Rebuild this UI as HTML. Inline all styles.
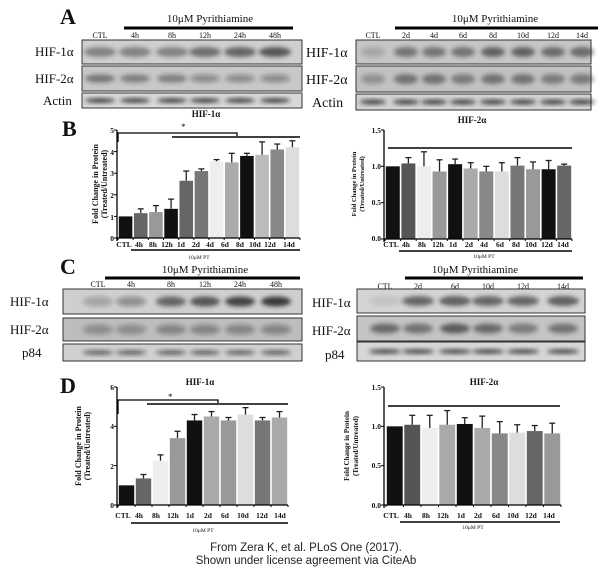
<!DOCTYPE html>
<html><head><meta charset="utf-8"><style>
html,body{margin:0;padding:0;background:#fff;width:611px;height:572px;overflow:hidden}
svg{display:block}
.t{font-family:"Liberation Serif",serif;fill:#111}
.b{font-weight:bold}
</style></head><body>
<svg id="s" width="611" height="572" viewBox="0 0 611 572" xmlns="http://www.w3.org/2000/svg">
<defs><filter id="bl" x="-20%" y="-50%" width="140%" height="200%"><feGaussianBlur stdDeviation="2"/></filter></defs>
<g id="g"></g>
<text class="t b" x="60" y="24" font-size="22">A</text>
<text class="t" x="210" y="22" font-size="11" text-anchor="middle">10μM Pyrithiamine</text>
<line x1="124" y1="28" x2="293" y2="28" stroke="#000" stroke-width="3"/>
<g class="t" font-size="8" text-anchor="middle"><text x="100" y="38">CTL</text><text x="135" y="38">4h</text><text x="172" y="38">8h</text><text x="205" y="38">12h</text><text x="240" y="38">24h</text><text x="275" y="38">48h</text></g>
<g class="t" font-size="13"><text x="35" y="56">HIF-1α</text><text x="35" y="83">HIF-2α</text><text x="43" y="105">Actin</text></g>
<text class="t" x="495" y="22" font-size="11" text-anchor="middle">10μM Pyrithiamine</text>
<line x1="395" y1="28" x2="598" y2="28" stroke="#000" stroke-width="3"/>
<g class="t" font-size="8" text-anchor="middle"><text x="373" y="38">CTL</text><text x="406" y="38">2d</text><text x="434" y="38">4d</text><text x="463" y="38">6d</text><text x="493" y="38">8d</text><text x="523" y="38">10d</text><text x="553" y="38">12d</text><text x="582" y="38">14d</text></g>
<g class="t" font-size="14"><text x="306" y="57">HIF-1α</text><text x="306" y="84">HIF-2α</text><text x="312" y="107">Actin</text></g>
<text class="t b" x="62" y="136" font-size="22">B</text>
<text class="t b" x="206" y="117" font-size="9" text-anchor="middle">HIF-1α</text>
<text class="t b" x="472" y="123" font-size="9" text-anchor="middle">HIF-2α</text>
<text class="t b" font-size="8" transform="translate(98,184) rotate(-90)" text-anchor="middle">Fold Change in Protein</text>
<text class="t b" font-size="8" transform="translate(107,184) rotate(-90)" text-anchor="middle">(Treated/Untreated)</text>
<text class="t b" font-size="6.5" transform="translate(356,184) rotate(-90)" text-anchor="middle">Fold Change in Protein</text>
<text class="t b" font-size="6.5" transform="translate(364,184) rotate(-90)" text-anchor="middle">(Treated/Untreated)</text>
<text class="t" x="181" y="130" font-size="9">*</text>
<text class="t" x="199" y="259" font-size="5.5" text-anchor="middle">10μM PT</text>
<text class="t" x="484" y="258" font-size="5.5" text-anchor="middle">10μM PT</text>
<text class="t b" x="60" y="274" font-size="22">C</text>
<text class="t" x="205" y="273" font-size="11" text-anchor="middle">10μM Pyrithiamine</text>
<line x1="105" y1="278" x2="300" y2="278" stroke="#000" stroke-width="3"/>
<g class="t" font-size="8" text-anchor="middle"><text x="98" y="287">CTL</text><text x="131" y="287">4h</text><text x="171" y="287">8h</text><text x="205" y="287">12h</text><text x="240" y="287">24h</text><text x="276" y="287">48h</text></g>
<g class="t" font-size="13"><text x="10" y="306">HIF-1α</text><text x="10" y="334">HIF-2α</text><text x="22" y="357">p84</text></g>
<text class="t" x="475" y="273" font-size="11" text-anchor="middle">10μM Pyrithiamine</text>
<line x1="405" y1="278" x2="583" y2="278" stroke="#000" stroke-width="3"/>
<g class="t" font-size="8" text-anchor="middle"><text x="385" y="289">CTL</text><text x="418" y="289">2d</text><text x="455" y="289">6d</text><text x="488" y="289">10d</text><text x="523" y="289">12d</text><text x="563" y="289">14d</text></g>
<g class="t" font-size="13"><text x="312" y="307">HIF-1α</text><text x="312" y="335">HIF-2α</text><text x="325" y="359">p84</text></g>
<text class="t b" x="60" y="393" font-size="22">D</text>
<text class="t b" x="200" y="385" font-size="9" text-anchor="middle">HIF-1α</text>
<text class="t b" x="484" y="385" font-size="9" text-anchor="middle">HIF-2α</text>
<text class="t b" font-size="8" transform="translate(81,446) rotate(-90)" text-anchor="middle">Fold Change in Protein</text>
<text class="t b" font-size="8" transform="translate(90,446) rotate(-90)" text-anchor="middle">(Treated/Untreated)</text>
<text class="t b" font-size="7" transform="translate(349,446) rotate(-90)" text-anchor="middle">Fold Change in Protein</text>
<text class="t b" font-size="7" transform="translate(358,446) rotate(-90)" text-anchor="middle">(Treated/Untreated)</text>
<text class="t" x="168" y="400" font-size="9">*</text>
<text class="t" x="203" y="532" font-size="5.5" text-anchor="middle">10μM PT</text>
<text class="t" x="473" y="529" font-size="5.5" text-anchor="middle">10μM PT</text>
<g font-family="Liberation Sans,sans-serif" font-size="11.5" fill="#222" text-anchor="middle"><text x="306" y="551">From Zera K, et al. PLoS One (2017).</text><text x="306" y="564">Shown under license agreement via CiteAb</text></g>
<g class="t b" font-size="7.5" text-anchor="middle" id="tl">
<text x="124" y="247">CTL</text><text x="139" y="247">4h</text><text x="153" y="247">8h</text><text x="167" y="247">12h</text><text x="181" y="247">1d</text><text x="196" y="247">2d</text><text x="210" y="247">4d</text><text x="225" y="247">6d</text><text x="240" y="247">8d</text><text x="255" y="247">10d</text><text x="270" y="247">12d</text><text x="289" y="247">14d</text>
<text x="391" y="247">CTL</text><text x="406" y="247">4h</text><text x="422" y="247">8h</text><text x="438" y="247">12h</text><text x="453" y="247">1d</text><text x="469" y="247">2d</text><text x="484" y="247">4d</text><text x="500" y="247">6d</text><text x="516" y="247">8d</text><text x="531" y="247">10d</text><text x="547" y="247">12d</text><text x="563" y="247">14d</text>
<text x="123" y="518">CTL</text><text x="139" y="518">4h</text><text x="156" y="518">8h</text><text x="173" y="518">12h</text><text x="190" y="518">1d</text><text x="208" y="518">2d</text><text x="225" y="518">6d</text><text x="243" y="518">10d</text><text x="262" y="518">12d</text><text x="280" y="518">14d</text>
<text x="391" y="518">CTL</text><text x="408" y="518">4h</text><text x="426" y="518">8h</text><text x="443" y="518">12h</text><text x="461" y="518">1d</text><text x="478" y="518">2d</text><text x="496" y="518">6d</text><text x="513" y="518">10d</text><text x="531" y="518">12d</text><text x="549" y="518">14d</text>
</g>
<g class="t b" font-size="7.5" text-anchor="end">
<text x="114" y="133">5</text><text x="114" y="155">4</text><text x="114" y="176">3</text><text x="114" y="198">2</text><text x="114" y="220">1</text><text x="114" y="241">0</text>
<text x="381" y="133">1.5</text><text x="381" y="169">1.0</text><text x="381" y="205">0.5</text><text x="381" y="241">0.0</text>
<text x="114" y="390">6</text><text x="114" y="429">4</text><text x="114" y="469">2</text><text x="114" y="508">0</text>
<text x="381" y="390">1.5</text><text x="381" y="429">1.0</text><text x="381" y="468">0.5</text><text x="381" y="508">0.0</text>
</g>
</svg>
<script>
var g=document.getElementById('g'),NS='http://www.w3.org/2000/svg';
function el(n,a){var e=document.createElementNS(NS,n);for(var k in a)e.setAttribute(k,a[k]);g.appendChild(e);return e;}
function blot(x1,y1,x2,y2,bg,lanes,h){
 el('rect',{x:x1,y:y1,width:x2-x1,height:y2-y1,fill:bg,stroke:'#333','stroke-width':1});
 lanes.forEach(function(l){el('ellipse',{cx:l[0],cy:(y1+y2)/2,rx:l[2]||14,ry:h,fill:'#222','fill-opacity':l[1],filter:'url(#bl)'});});
}
var LA=[100,135,172,205,240,275];
blot(82,40,302,64,'#cfcfcf',LA.map(function(x,i){return[x,[.45,.45,.45,.55,.6,.7][i],16]}),5);
blot(82,66,302,91,'#c8c8c8',LA.map(function(x,i){return[x,[.5,.45,.45,.35,.35,.35][i],15]}),4);
blot(82,93,302,108,'#d8d8d8',LA.map(function(x){return[x,.8,15]}),2.5);
var RA=[373,406,434,463,493,523,553,582];
blot(356,40,591,64,'#c6c6c6',RA.map(function(x,i){return[x,[.2,.5,.5,.5,.6,.6,.55,.55][i],12]}),5);
blot(356,66,591,92,'#c2c2c2',RA.map(function(x,i){return[x,[.3,.5,.5,.45,.5,.5,.45,.45][i],12]}),5);
blot(356,94,591,110,'#d2d2d2',RA.map(function(x){return[x,.8,13]}),2.5);
var LC=[98,131,171,205,240,276];
blot(63,289,302,314,'#cfcfcf',LC.map(function(x,i){return[x,[.25,.35,.6,.7,.8,.85][i],15]}),5);
blot(63,318,302,341,'#bdbdbd',LC.map(function(x,i){return[x,[.3,.3,.35,.35,.35,.35][i],15]}),5);
blot(63,344,302,361,'#d0d0d0',LC.map(function(x){return[x,.6,15]}),2.5);
var RC=[385,418,455,488,523,563];
blot(357,289,585,313,'#d4d4d4',RC.map(function(x,i){return[x,[.08,.6,.65,.6,.6,.65][i],16]}),5);
blot(357,316,585,341,'#c4c4c4',RC.map(function(x,i){return[x,[.55,.5,.65,.55,.45,.5][i],15]}),5);
blot(357,342,585,361,'#d6d6d6',RC.map(function(x){return[x,.75,16]}),2.5);
function chart(ax,x0,x1,y0,yT,max,vals,errs,cols,ticks){
 var n=vals.length,w=(x1-x0)/n,sc=(y0-yT)/max;
 vals.forEach(function(v,i){var bx=x0+i*w+0.8,by=y0-v*sc;
  el('rect',{x:bx,y:by,width:w-1.6,height:v*sc,fill:cols[i]});
  if(errs[i]>0){var cx=bx+(w-1.6)/2,ey=by-errs[i]*sc;
   el('line',{x1:cx,y1:by,x2:cx,y2:ey,stroke:'#222','stroke-width':1.3});
   el('line',{x1:cx-3,y1:ey,x2:cx+3,y2:ey,stroke:'#222','stroke-width':1.3});}
 });
 el('line',{x1:ax,y1:yT,x2:ax,y2:y0+3,stroke:'#000','stroke-width':1.3});
 el('line',{x1:ax,y1:y0,x2:x1,y2:y0,stroke:'#000','stroke-width':1.3});
 ticks.forEach(function(t){var y=y0-t*sc;el('line',{x1:ax-3,y1:y,x2:ax,y2:y,stroke:'#000'});});
 for(var i=0;i<=n;i++)el('line',{x1:x0+i*w,y1:y0,x2:x0+i*w,y2:y0+2,stroke:'#000'});
}
chart(117,118,300,238,130,5,[1,1.15,1.2,1.35,2.65,3.1,3.55,3.5,3.8,3.85,4.1,4.2],[0,.2,.3,.45,.45,.1,.08,.42,.12,.6,.25,.3],
['#111','#666','#999','#111','#666','#777','#eee','#aaa','#111','#bbb','#888','#ddd'],[0,1,2,3,4,5]);
el('polyline',{points:'118,142 118,133 237,133 237,136',fill:'none',stroke:'#000','stroke-width':1.3});
el('line',{x1:172,y1:137,x2:300,y2:137,stroke:'#000','stroke-width':1.5});
el('line',{x1:131,y1:250,x2:300,y2:250,stroke:'#000','stroke-width':1.5});
chart(384,385,572,239,130,1.5,[1,1.04,1.0,.93,1.03,.97,.93,.93,1.01,.96,.96,1.01],[0,.08,.2,.16,.07,.08,.07,.12,.11,.1,.12,.02],
['#111','#555','#eee','#999','#111','#aaa','#888','#ddd','#777','#999','#111','#666'],[0,.5,1,1.5]);
el('line',{x1:388,y1:148,x2:572,y2:148,stroke:'#000','stroke-width':1.5});
el('line',{x1:399,y1:251,x2:572,y2:251,stroke:'#000','stroke-width':1.5});
chart(117,118,288,505,387,6,[1,1.35,2.25,3.4,4.3,4.5,4.3,4.6,4.3,4.45],[0,.2,.3,.35,.3,.25,.15,.35,.15,.3],
['#111','#666','#eee','#999','#111','#aaa','#999','#ddd','#777','#aaa'],[0,2,4,6]);
el('polyline',{points:'118,414 118,400 218,400 218,403',fill:'none',stroke:'#000','stroke-width':1.3});
el('line',{x1:147,y1:404,x2:288,y2:404,stroke:'#000','stroke-width':1.5});
el('line',{x1:131,y1:523,x2:288,y2:523,stroke:'#000','stroke-width':1.5});
chart(384,386,561,505,387,1.5,[1,1.02,.98,1.02,1.03,.98,.91,.92,.94,.91],[0,.12,.16,.18,.08,.15,.15,.1,.07,.13],
['#111','#555','#eee','#aaa','#111','#aaa','#888','#ddd','#666','#999'],[0,.5,1,1.5]);
el('line',{x1:388,y1:406,x2:560,y2:406,stroke:'#000','stroke-width':1.5});
el('line',{x1:400,y1:522,x2:560,y2:522,stroke:'#000','stroke-width':1.5});
</script>
</body></html>
